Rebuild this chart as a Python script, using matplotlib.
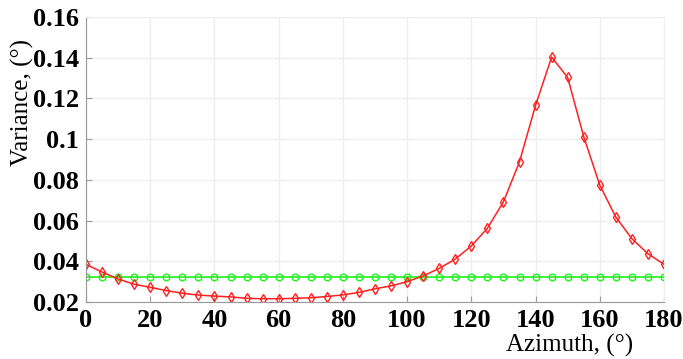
import numpy as np
import matplotlib
matplotlib.use("Agg")
import matplotlib.pyplot as plt

# azimuth in degrees, step 5
azimuth = np.arange(0, 181, 5)

# red curve (diamonds)
var_red = [0.0385, 0.0347, 0.0313, 0.0287, 0.0272, 0.0256, 0.0243, 0.0234, 0.0229, 0.0225,
           0.0218, 0.0216, 0.0216, 0.0218, 0.0221, 0.0227, 0.0235, 0.0247, 0.0265, 0.0279,
           0.0300, 0.0328, 0.0365, 0.0411, 0.0475, 0.0562, 0.0692, 0.0889, 0.1166, 0.1403,
           0.1303, 0.1012, 0.0774, 0.0617, 0.0511, 0.0437, 0.0385]

# green curve (circles), constant
var_green = [0.0322] * len(azimuth)

xticks = [0, 20, 40, 60, 80, 100, 120, 140, 160, 180]
yticks = [0.02, 0.04, 0.06, 0.08, 0.1, 0.12, 0.14, 0.16]
yticklabels = ['0.02', '0.04', '0.06', '0.08', '0.1', '0.12', '0.14', '0.16']

plt.rcParams['font.family'] = 'Liberation Serif'

fig = plt.figure(figsize=(6.83, 3.59), dpi=100)
ax = fig.add_axes([86/683, 1 - 302/359, (664-86)/683, (302-17)/359])

ax.plot(azimuth, var_green, color='#22ee22', lw=1.2, marker='o', ms=4.8,
        mfc='none', mec='#22ee22', mew=1.0)
ax.plot(azimuth, var_red, color='#ff2020', lw=1.1, marker='d', ms=5.2,
        mfc='none', mec='#ff2020', mew=1.0)

ax.set_xlim(0, 180)
ax.set_ylim(0.02, 0.16)
ax.set_xticks(xticks)
ax.set_yticks(yticks)
ax.set_yticklabels(yticklabels)
for lab in ax.get_xticklabels() + ax.get_yticklabels():
    lab.set_fontweight('bold')
    lab.set_fontsize(19)

ax.tick_params(direction='in', length=4, color='#999999', pad=5)
ax.grid(True, color='#eeeeee', lw=1.0)
for s in ['left', 'bottom']:
    ax.spines[s].set_color('#999999')
for s in ['top', 'right']:
    ax.spines[s].set_color('#eeeeee')

ax.set_xlabel('Azimuth, (°)', fontsize=18)
ax.set_ylabel('Variance, (°)', fontsize=18)
ax.xaxis.set_label_coords((570-86)/578, -(345-302)/285, transform=ax.transAxes)
ax.yaxis.set_label_coords(-(86-22)/578, (302-102)/285, transform=ax.transAxes)
ax.xaxis.label.set_va('center')
ax.yaxis.label.set_va('center')

fig.savefig('out.png', dpi=100)
